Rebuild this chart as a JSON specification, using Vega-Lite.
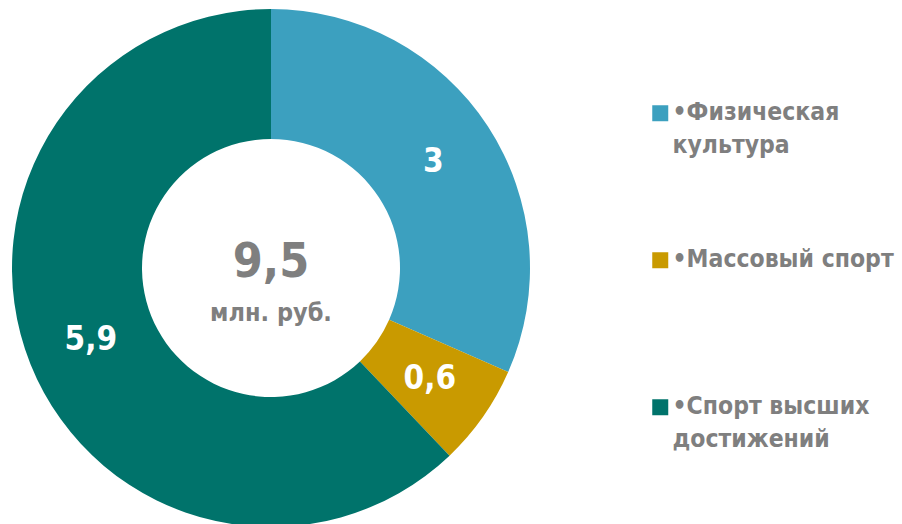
{
  "$schema": "https://vega.github.io/schema/vega-lite/v6.json",
  "width": 542,
  "height": 536,
  "padding": {"left": 0, "top": 0, "right": 360, "bottom": 0},
  "autosize": {"type": "none"},
  "background": "white",
  "config": {"view": {"stroke": null}, "font": "DejaVu Sans Condensed", "style": {"guide-label": {"lineHeight": 33}}},
  "layer": [
    {
      "data": {"values": [
        {"cat": "Физическая|культура", "v": 3, "o": 1, "lbl": "3"},
        {"cat": "Массовый спорт", "v": 0.6, "o": 2, "lbl": "0,6"},
        {"cat": "Спорт высших|достижений", "v": 5.9, "o": 3, "lbl": "5,9"}
      ]},
      "encoding": {
        "theta": {"field": "v", "type": "quantitative", "stack": true},
        "order": {"field": "o", "type": "quantitative"},
        "color": {
          "field": "cat", "type": "nominal",
          "scale": {"domain": ["Физическая|культура", "Массовый спорт", "Спорт высших|достижений"], "range": ["#3CA0BF", "#C99A00", "#00736B"]},
          "legend": {
            "orient": "none", "legendX": 648, "legendY": 101, "title": null,
            "symbolType": "square", "symbolSize": 256, "symbolStrokeWidth": 0,
            "labelFont": "DejaVu Sans Condensed", "labelFontWeight": "bold", "labelFontSize": 24.5,
            "labelColor": "#7F7F7F", "labelLimit": 0, "labelOffset": 0, "rowPadding": 89,
            "gridAlign": "all",
            "labelExpr": "split('•' + datum.label, '|')"
          }
        }
      },
      "layer": [
        {"mark": {"type": "arc", "outerRadius": 259, "innerRadius": 129}},
        {"mark": {"type": "text", "radius": 194, "fontSize": 33, "fontWeight": "bold", "font": "DejaVu Sans Condensed"},
         "encoding": {"text": {"field": "lbl"}, "color": {"value": "white"}}}
      ]
    },
    {
      "data": {"values": [{"t": "9,5", "s": 48, "dy": -5}, {"t": "млн. руб.", "s": 25, "dy": 45}]},
      "mark": {"type": "text", "fontWeight": "bold", "color": "#7F7F7F", "font": "DejaVu Sans Condensed", "baseline": "middle"},
      "encoding": {
        "theta": {"value": 0},
        "radius": {"value": 0},
        "text": {"field": "t"},
        "size": {"field": "s", "type": "quantitative", "scale": null},
        "yOffset": {"field": "dy", "type": "quantitative", "scale": null}
      }
    }
  ]
}
